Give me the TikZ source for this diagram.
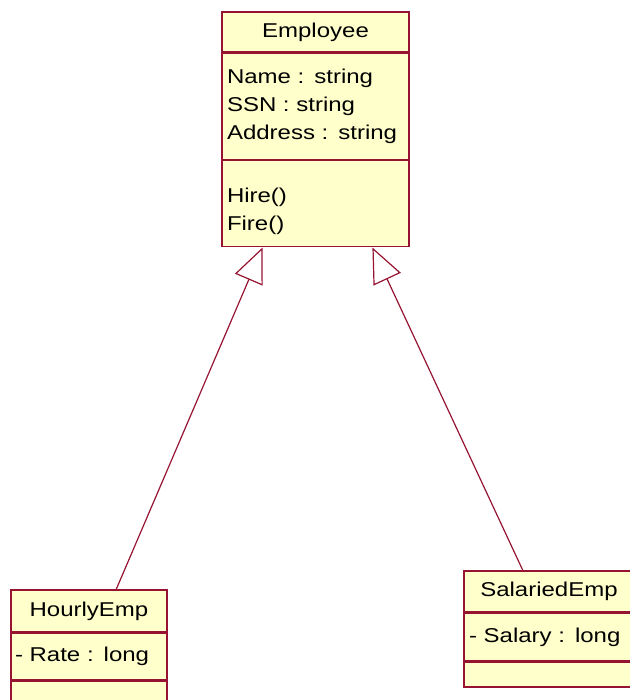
\documentclass[tikz,border=0pt]{standalone}
\usepackage{fontspec}
\setmainfont[FakeStretch=1.2]{Liberation Sans}
\usetikzlibrary{positioning,arrows.meta,calc}
\definecolor{umlline}{RGB}{150,20,50}
\definecolor{umlfill}{RGB}{255,255,204}

\begin{document}
\begin{tikzpicture}[
  x=1pt, y=-1pt,
  node distance=0mm,
  box/.style={draw=umlline, fill=umlfill, line width=1.4pt, inner xsep=5pt, inner ysep=0pt,
    font=\fontsize{20}{28}\selectfont},
  titlebox/.style={box, align=center},
  partbox/.style={box, align=left},
  inherit/.style={draw=umlline, line width=1.2pt, -{Triangle[open,length=35pt,width=30pt]}}
]
\useasboundingbox (0,0) rectangle (629,700);

% Employee
\node[titlebox, minimum width=187pt, minimum height=40pt] (emp) at (315.5,32) {Employee};
\node[partbox, below=of emp, text width=177pt, minimum height=106pt] (empattr)
  {Name : string\\SSN : string\\Address : string};
\node[partbox, below=of empattr, text width=177pt, minimum height=86pt] (empops)
  {\raisebox{-13pt}[0pt][0pt]{Hire()}\\\raisebox{-13pt}[0pt][0pt]{Fire()}};

% HourlyEmp
\node[titlebox, minimum width=156pt, minimum height=42pt] (hourly) at (89,611) {HourlyEmp};
\node[partbox, below=of hourly, minimum height=46pt, inner xsep=4pt, text width=148pt] (hourlyattr)
  {- Rate : long};
\node[partbox, below=of hourlyattr, minimum width=156pt, minimum height=30pt] (hourlyops) {};

% SalariedEmp
\node[titlebox, minimum width=170pt, minimum height=41pt] (salaried) at (549,591.5) {SalariedEmp};
\node[partbox, below=of salaried, text width=160pt, minimum height=47pt] (salariedattr)
  {- Salary : long};
\node[partbox, below=of salariedattr, minimum width=170pt, minimum height=25pt] (salariedops) {};

\draw[inherit] ($(hourly.north west)!0.673!(hourly.north east)$)
  -- ($(empops.south west)!0.219!(empops.south east)$);
\draw[inherit] ($(salaried.north west)!0.347!(salaried.north east)$)
  -- ($(empops.south west)!0.802!(empops.south east)$);
\end{tikzpicture}
\end{document}
